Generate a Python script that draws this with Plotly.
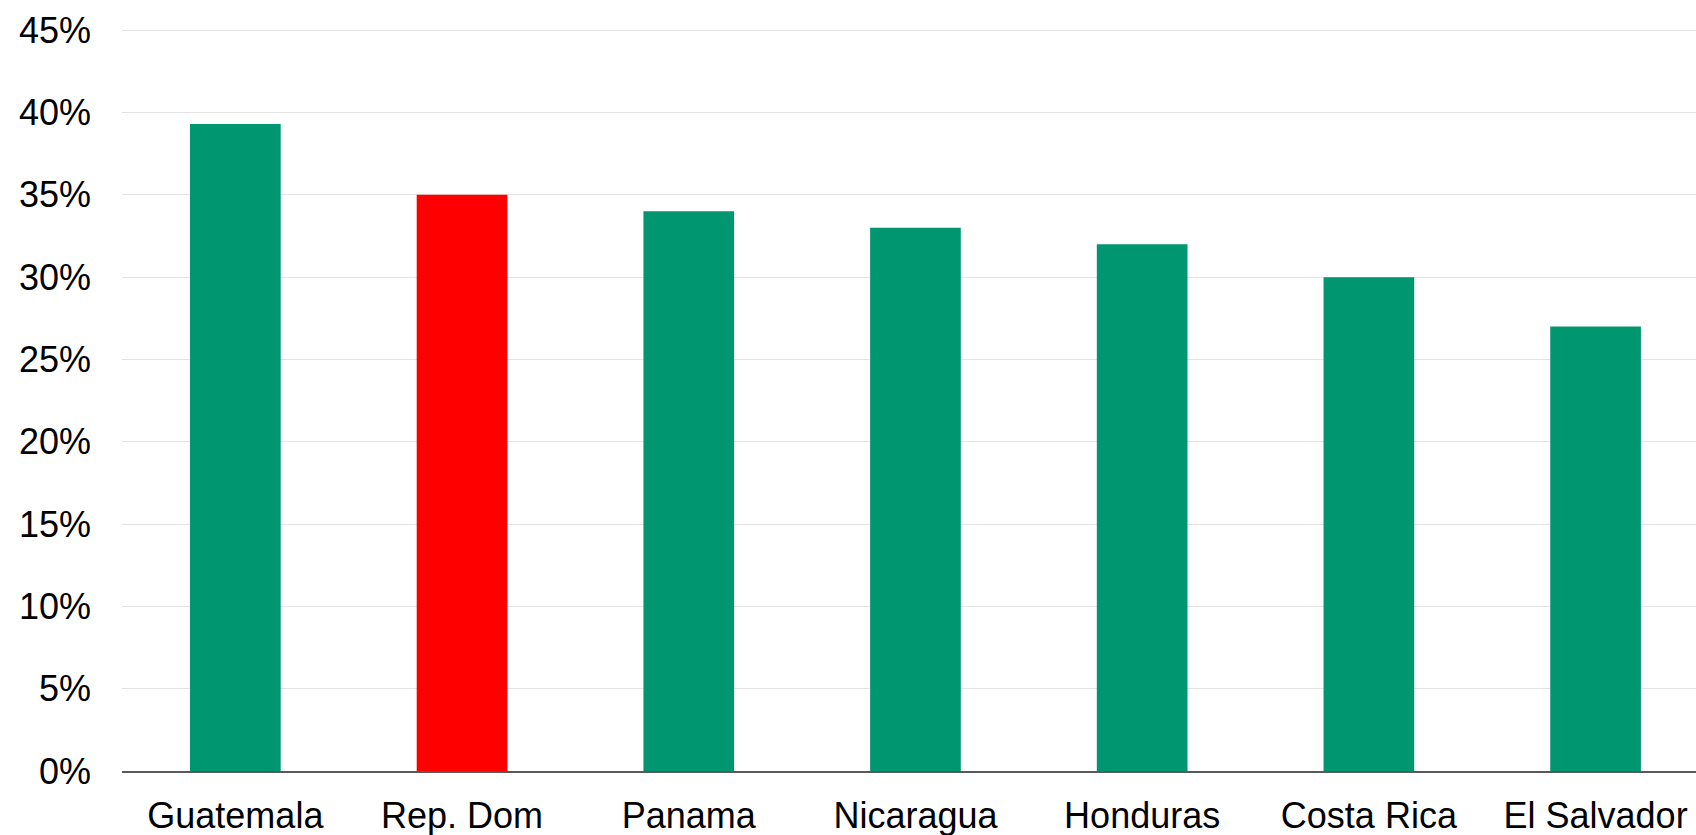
import plotly.graph_objects as go

countries = ["Guatemala", "Rep. Dom", "Panama", "Nicaragua", "Honduras", "Costa Rica", "El Salvador"]
values = [39.3, 35.0, 34.0, 33.0, 32.0, 30.0, 27.0]
colors = ["#00966F", "#FF0000", "#00966F", "#00966F", "#00966F", "#00966F", "#00966F"]
y_ticks = [0, 5, 10, 15, 20, 25, 30, 35, 40, 45]
y_tick_labels = ["0%", "5%", "10%", "15%", "20%", "25%", "30%", "35%", "40%", "45%"]

fig = go.Figure(go.Bar(x=countries, y=values, marker=dict(color=colors, line=dict(width=0)), width=0.4))

fig.update_layout(
    width=1696, height=835,
    margin=dict(l=122, r=0, t=22, b=64),
    paper_bgcolor="white", plot_bgcolor="white",
    font=dict(family="Liberation Sans, Arial, sans-serif", size=36, color="#000000"),
    showlegend=False,
)
fig.update_xaxes(
    range=[-0.5, 6.443], showline=True, linecolor="#595959", linewidth=1.5,
    showgrid=False, ticks="", ticklabelstandoff=12, fixedrange=True,
)
fig.update_yaxes(
    range=[0, 45.5], tickmode="array", tickvals=y_ticks, ticktext=y_tick_labels,
    showgrid=True, gridcolor="#E3E3E3", gridwidth=1, zeroline=False, showline=False,
    ticks="", ticklabelstandoff=30,
)
fig.write_html("out.html")
